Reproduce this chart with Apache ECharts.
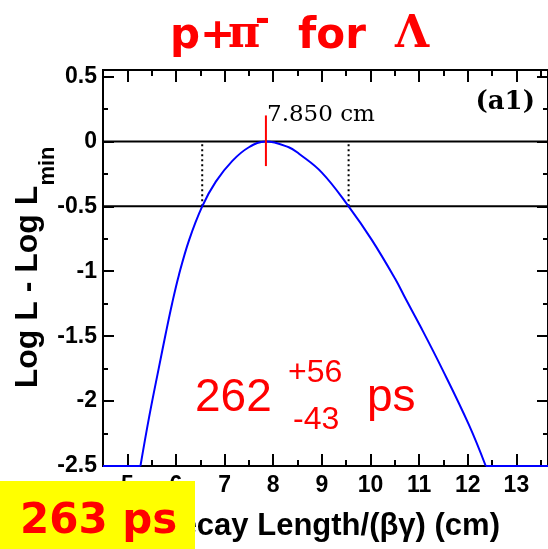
<!DOCTYPE html>
<html><head><meta charset="utf-8">
<script src="https://cdn.jsdelivr.net/npm/echarts@6/dist/echarts.min.js"></script>
<style>html,body{margin:0;padding:0;background:#fff}#c{width:548px;height:549px}</style>
</head><body><div id="c"></div>
<script>
// axis ranges
const xRange = [4.5, 13.65];
const yRange = [-2.5, 0.55];
// likelihood curve
const curveX = [5.27, 5.45, 5.65, 5.79, 5.92, 6.06, 6.27, 6.54, 6.82, 7.16, 7.5, 7.85, 8.32, 8.53, 9.0, 9.55, 10.03, 10.51, 10.72, 11.02, 11.47, 12.02, 12.37];
const curveY = [-2.5, -2.12, -1.74, -1.48, -1.25, -1.03, -0.76, -0.5, -0.31, -0.15, -0.045, 0, -0.045, -0.095, -0.24, -0.5, -0.76, -1.06, -1.21, -1.42, -1.75, -2.18, -2.5];
const refLevels = [0, -0.5];
const errBounds = [6.54, 9.55];
const peakX = 7.85;
const peakMark = [-0.19, 0.2];
const peakLabel = '7.850 cm';
const panelLabel = '(a1)';
const fitCentral = '262', fitPlus = '+56', fitMinus = '-43', fitUnit = 'ps';
const boxLabel = '263 ps';
const xTitle = 'Decay Length/(βγ) (cm)';
const yTitleMain = 'Log L - Log L', yTitleSub = 'min';

const chart = echarts.init(document.getElementById('c'));
const black = '#000';
const PLOT_W = 446, PLOT_H = 396;
const labelFont = {fontFamily: 'Liberation Sans', fontWeight: 'bold', fontSize: 23, color: black};
function baseAx(range, step, split) {
  return {type: 'value', min: range[0], max: range[1], minInterval: step, maxInterval: step, splitNumber: split,
    splitLine: {show: false}};
}
// frame/label axes (no ticks)
function frameX(pos, labels) {
  return Object.assign(baseAx(xRange, 1, 9), {position: pos,
    axisLine: {show: true, onZero: false, lineStyle: {color: black, width: 2}},
    axisTick: {show: false},
    axisLabel: Object.assign({show: labels, showMinLabel: false, showMaxLabel: false, margin: 8}, labelFont)});
}
function frameY(pos, labels) {
  return Object.assign(baseAx(yRange, 0.5, 6), {position: pos,
    axisLine: {show: true, onZero: false, lineStyle: {color: black, width: 2}},
    axisTick: {show: false},
    axisLabel: Object.assign({show: labels, showMinLabel: true, showMaxLabel: false, margin: 6}, labelFont)});
}
// tick-only axes placed on the opposite edge so their outward ticks point into the plot
function tickX(pos, step, len, off) {
  return Object.assign(baseAx(xRange, step, step === 1 ? 9 : 18), {position: pos, offset: off,
    axisLine: {show: false, onZero: false}, axisLabel: {show: false},
    axisTick: {show: true, inside: false, length: len, lineStyle: {color: black, width: 2}}});
}
function tickY(pos, step, len, off) {
  return Object.assign(baseAx(yRange, step, step === 0.5 ? 6 : 12), {position: pos, offset: off,
    axisLine: {show: false, onZero: false}, axisLabel: {show: false},
    axisTick: {show: true, inside: false, length: len, lineStyle: {color: black, width: 2}}});
}

const series = [];
const blue = '#0000ff', red = '#ff0000';
series.push({type: 'line', xAxisIndex: 0, yAxisIndex: 0, data: curveX.map((x, i) => [x, curveY[i]]),
  showSymbol: false, smooth: 0.4, lineStyle: {color: blue, width: 2}, z: 5});
series.push({type: 'line', xAxisIndex: 0, yAxisIndex: 0, clip: false, showSymbol: false,
  data: [[xRange[0], yRange[0]], [curveX[0], curveY[0]]], lineStyle: {color: blue, width: 2}, z: 5});
series.push({type: 'line', xAxisIndex: 0, yAxisIndex: 0, clip: false, showSymbol: false,
  data: [[curveX[curveX.length - 1], curveY[curveY.length - 1]], [xRange[1], yRange[0]]], lineStyle: {color: blue, width: 2}, z: 5});
refLevels.forEach(l => series.push({type: 'line', xAxisIndex: 0, yAxisIndex: 0, showSymbol: false,
  data: [[xRange[0], l], [xRange[1], l]], lineStyle: {color: black, width: 2}, z: 3}));
errBounds.forEach(b => series.push({type: 'line', xAxisIndex: 0, yAxisIndex: 0, showSymbol: false,
  data: [[b, refLevels[1]], [b, refLevels[0]]], lineStyle: {color: black, width: 2, type: [2, 3]}, z: 3}));
series.push({type: 'line', xAxisIndex: 0, yAxisIndex: 0, showSymbol: false,
  data: [[peakX, peakMark[0]], [peakX, peakMark[1]]], lineStyle: {color: red, width: 2}, z: 6});

function txt(text, x, y, font, fill, align, z, extra) {
  return Object.assign({type: 'text', x: x, y: y, z: z || 100,
    style: {text: text, font: font, fill: fill, align: align || 'left', verticalAlign: 'middle'}}, extra || {});
}
const graphic = [
  // title
  txt('p+', 170, 37, 'bold 42px "DejaVu Sans"', red),
  txt('π', 228, 36, 'bold 44px "DejaVu Serif"', red),
  txt('-', 255, 22, 'bold 36px "DejaVu Sans"', red),
  txt('for', 298, 37, 'bold 42px "DejaVu Sans"', red),
  txt('Λ', 395, 36, 'bold 44px "DejaVu Serif"', red),
  // annotations
  txt(peakLabel, 267, 115, '23px "DejaVu Serif"', black),
  txt(panelLabel, 535, 102, 'bold 26px "DejaVu Serif"', black, 'right'),
  txt(fitCentral, 195, 398, '46px "Liberation Sans"', red),
  txt(fitPlus, 288, 373, '32px "Liberation Sans"', red),
  txt(fitMinus, 293, 420, '32px "Liberation Sans"', red),
  txt(fitUnit, 367, 398, '46px "Liberation Sans"', red),
  // axis titles
  txt(xTitle, 500, 526, 'bold 31px "Liberation Sans"', black, 'right', 50),
  txt(yTitleMain, 28, 287, 'bold 32px "Liberation Sans"', black, 'center', 50, {rotation: Math.PI / 2}),
  txt(yTitleSub, 48, 166, 'bold 22px "Liberation Sans"', black, 'center', 50, {rotation: Math.PI / 2}),
  // yellow box
  {type: 'rect', shape: {x: 0, y: 481, width: 195, height: 70}, style: {fill: '#ffff00'}, z: 120},
  txt(boxLabel, 20, 522, 'bold 42px "DejaVu Sans"', red, 'left', 121)
];

chart.setOption({
  animation: false,
  grid: {left: 103, top: 70, right: -1, bottom: 83, containLabel: false},
  xAxis: [frameX('bottom', true), frameX('top', false),
          tickX('top', 1, 12, -PLOT_H), tickX('top', 0.5, 6, -PLOT_H),
          tickX('bottom', 1, 12, -PLOT_H), tickX('bottom', 0.5, 6, -PLOT_H)],
  yAxis: [frameY('left', true), frameY('right', false),
          tickY('right', 0.5, 12, -PLOT_W), tickY('right', 0.25, 6, -PLOT_W),
          tickY('left', 0.5, 12, -PLOT_W), tickY('left', 0.25, 6, -PLOT_W)],
  series: series,
  graphic: graphic
});
</script></body></html>
